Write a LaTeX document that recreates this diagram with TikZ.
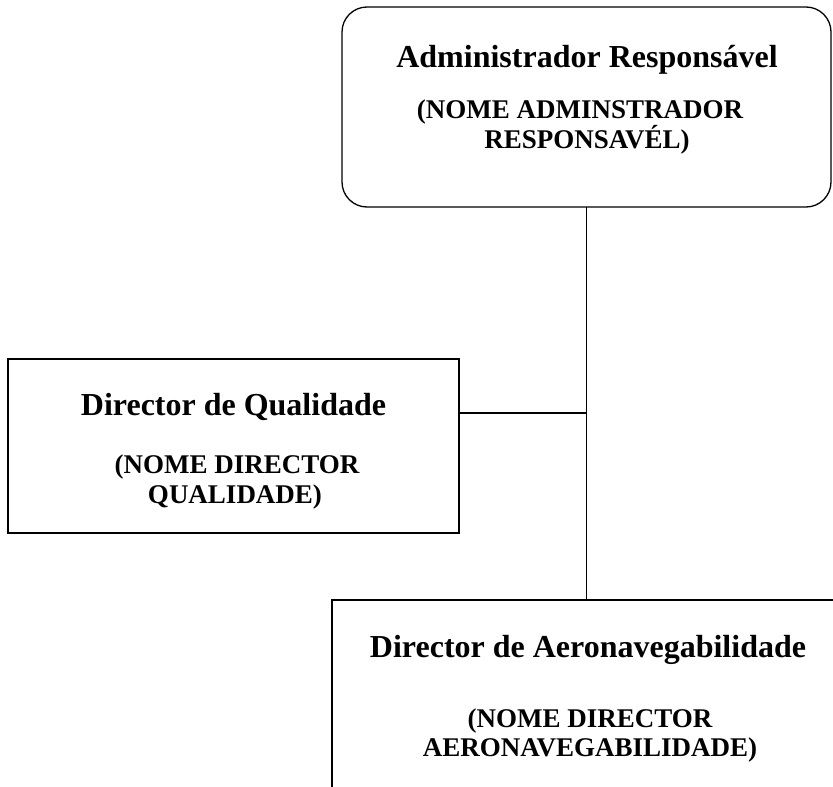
\documentclass[tikz,border=0pt]{standalone}
\usepackage{fontspec}
\setmainfont{Liberation Serif}
\begin{document}
\begin{tikzpicture}[x=1pt,y=-1pt,
  frame/.style={draw=black, line width=1.3pt, inner sep=0pt, outer sep=0pt},
  titletext/.style={anchor=base, inner sep=0pt, font=\bfseries\fontsize{32}{36}\selectfont},
  subtext/.style={anchor=base, inner sep=0pt, font=\bfseries\fontsize{27}{31}\selectfont},
  link/.style={draw=black, line width=1.3pt}]
\clip (0,0) rectangle (833,787);
\fill[white] (0,0) rectangle (833,787);
% boxes
\node[frame, rounded corners=25pt, minimum width=489pt, minimum height=200pt] (adm) at (586.5,107) {};
\node[frame, minimum width=451pt, minimum height=174pt] (dq) at (233.5,446) {};
\node[frame, minimum width=510pt, minimum height=300pt] (da) at (587,750) {};
% connectors
\coordinate (j) at (587,413);
\draw[link] (adm.south) -- (adm.south |- da.north);
\draw[link] (dq.east |- j) -- (j);
% texts
\node[titletext] (admT) at (587,67) {Administrador Responsável};
\node[subtext] (admN1) at (580,118) {(NOME ADMINSTRADOR};
\node[subtext] (admN2) at (587,148) {RESPONSAVÉL)};
\node[titletext] (dqT) at (233.5,415) {Director de Qualidade};
\node[subtext] (dqN1) at (237,473) {(NOME DIRECTOR};
\node[subtext] (dqN2) at (235,503) {QUALIDADE)};
\node[titletext] (daT) at (588,657) {Director de Aeronavegabilidade};
\node[subtext] (daN1) at (590,727) {(NOME DIRECTOR};
\node[subtext] (daN2) at (590,756) {AERONAVEGABILIDADE)};
\end{tikzpicture}
\end{document}
